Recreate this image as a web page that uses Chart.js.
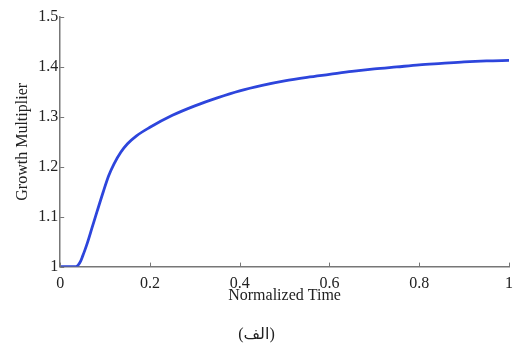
<!DOCTYPE html>
<html>
<head>
<meta charset="utf-8">
<script src="https://cdn.jsdelivr.net/npm/chart.js@4.4.1/dist/chart.umd.min.js"></script>
<style>
    html, body { margin: 0; padding: 0; background: #fff; }
    #wrap { position: relative; width: 513px; height: 351px; }
    #caption {
        position: absolute; left: 0; width: 513px; top: 324px;
        text-align: center; font-family: "Liberation Serif", "DejaVu Sans", serif;
        font-size: 16px; color: #222; direction: rtl;
    }
</style>
</head>
<body>
<div id="wrap">
    <canvas id="growthChart" width="513" height="351"></canvas>
    <div id="caption">(الف)</div>
</div>
<script>
// values
const timeValues = [0, 0.03, 0.035, 0.04, 0.045, 0.05, 0.055, 0.06, 0.071, 0.082, 0.096, 0.108, 0.12, 0.135, 0.15, 0.17, 0.2, 0.25, 0.3, 0.35, 0.4, 0.45, 0.5, 0.55, 0.6, 0.65, 0.7, 0.75, 0.8, 0.85, 0.9, 0.95, 1.0];
const multiplierValues = [1, 1, 1.0, 1.003, 1.01, 1.021, 1.033, 1.046, 1.078, 1.11, 1.15, 1.182, 1.206, 1.229, 1.246, 1.262, 1.279, 1.303, 1.322, 1.338, 1.352, 1.363, 1.372, 1.379, 1.385, 1.391, 1.396, 1.4, 1.404, 1.407, 1.41, 1.412, 1.413];
const xTicks = [0, 0.2, 0.4, 0.6, 0.8, 1];
const yTicks = [1, 1.1, 1.2, 1.3, 1.4, 1.5];

const serif = '"Liberation Serif", "Times New Roman", serif';
const axisColor = '#777';

// small tick marks pointing into the plot, like the original figure
const inwardTicks = {
    id: 'inwardTicks',
    afterDraw(chart) {
        const ctx = chart.ctx;
        const xs = chart.scales.x, ys = chart.scales.y;
        ctx.save();
        ctx.strokeStyle = axisColor;
        ctx.lineWidth = 1;
        xs.ticks.forEach(t => {
            const px = Math.round(xs.getPixelForValue(t.value)) + 0.5;
            ctx.beginPath();
            ctx.moveTo(px, ys.bottom);
            ctx.lineTo(px, ys.bottom - 4);
            ctx.stroke();
        });
        ys.ticks.forEach(t => {
            const py = Math.round(ys.getPixelForValue(t.value)) + 0.5;
            ctx.beginPath();
            ctx.moveTo(xs.left, py);
            ctx.lineTo(xs.left + 4, py);
            ctx.stroke();
        });
        ctx.restore();
    }
};

new Chart(document.getElementById('growthChart'), {
    type: 'line',
    data: {
        datasets: [{
            data: timeValues.map((t, i) => ({ x: t, y: multiplierValues[i] })),
            borderColor: '#2d45dc',
            borderWidth: 2.8,
            pointRadius: 0,
            cubicInterpolationMode: 'monotone',
            fill: false
        }]
    },
    options: {
        responsive: false,
        animation: false,
        layout: { padding: { top: 17, right: 1, left: 13, bottom: 46 } },
        plugins: { legend: { display: false }, tooltip: { enabled: false } },
        scales: {
            x: {
                type: 'linear',
                min: 0,
                max: 1,
                afterBuildTicks: s => { s.ticks = xTicks.map(v => ({ value: v })); },
                // tick padding would otherwise widen the right margin
                afterFit: s => { s.paddingRight = 4; s.paddingLeft = 0; },
                grid: { drawOnChartArea: false, drawTicks: false },
                border: { color: axisColor, width: 1.5 },
                ticks: {
                    padding: 8,
                    maxRotation: 0,
                    color: '#222',
                    font: { family: serif, size: 16 },
                    callback: v => String(v)
                },
                title: {
                    display: true,
                    text: 'Normalized Time',
                    color: '#222',
                    padding: { top: -16, bottom: 0 },
                    font: { family: serif, size: 16 }
                }
            },
            y: {
                min: 1,
                max: 1.5,
                afterBuildTicks: s => { s.ticks = yTicks.map(v => ({ value: v })); },
                grid: { drawOnChartArea: false, drawTicks: false },
                border: { color: axisColor, width: 1.5 },
                ticks: {
                    padding: 2,
                    color: '#222',
                    font: { family: serif, size: 16 },
                    callback: v => String(Math.round(v * 10) / 10)
                },
                title: {
                    display: true,
                    text: 'Growth Multiplier',
                    color: '#222',
                    padding: { top: 0, bottom: 4 },
                    font: { family: serif, size: 16 }
                }
            }
        }
    },
    plugins: [inwardTicks]
});
</script>
</body>
</html>
